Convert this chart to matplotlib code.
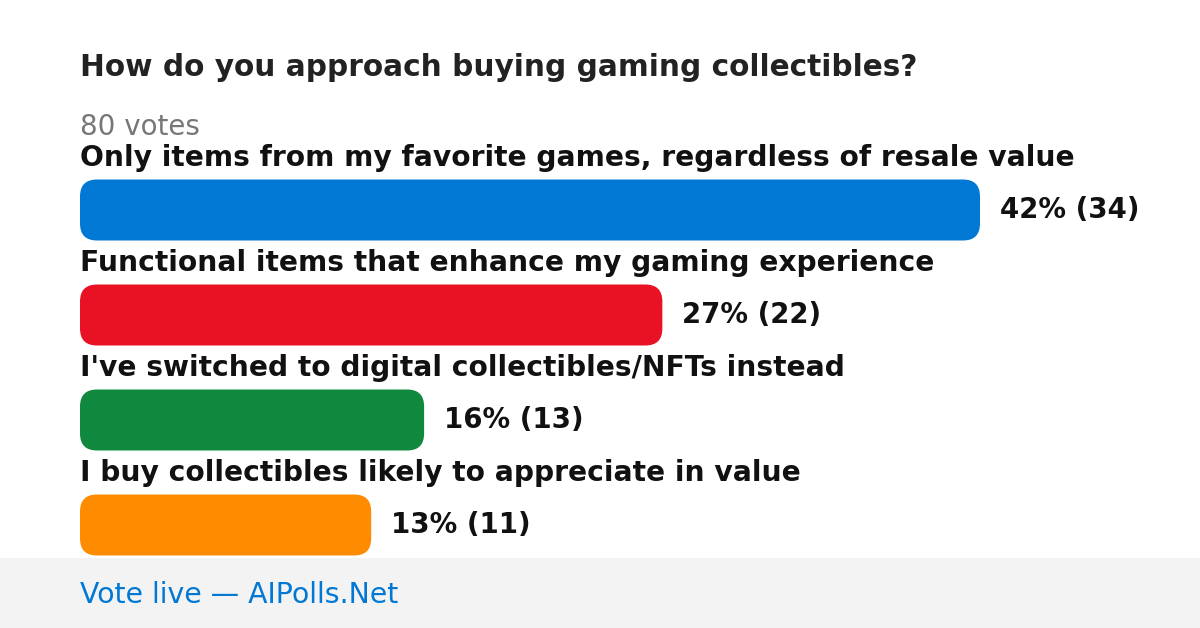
import matplotlib
matplotlib.use("Agg")
import matplotlib.pyplot as plt
from matplotlib.patches import FancyBboxPatch, Rectangle

plt.rcParams['font.family'] = ['DejaVu Sans']

title = "How do you approach buying gaming collectibles?"
total_votes = 80
categories = [
    "Only items from my favorite games, regardless of resale value",
    "Functional items that enhance my gaming experience",
    "I've switched to digital collectibles/NFTs instead",
    "I buy collectibles likely to appreciate in value",
]
votes = [34, 22, 13, 11]
percents = [42, 27, 16, 13]
colors = ["#0078d4", "#e81224", "#10893e", "#ff8c00"]
footer = "Vote live \u2014 AIPolls.Net"

W, H = 1200, 628
fig = plt.figure(figsize=(W / 100, H / 100), dpi=100)
fig.patch.set_facecolor("white")

def fx(px):
    return px / W

def fy(py):
    return 1 - py / H

# footer band
fig.patches.append(Rectangle((0, 0), 1, 70 / H, transform=fig.transFigure,
                             facecolor="#f3f3f3", edgecolor="none", zorder=0))
fig.text(fx(80), fy(595), footer, fontsize=20.4, color="#0078d4",
         va="center", ha="left")

fig.text(fx(80), fy(68), title, fontsize=21.3, fontweight="bold",
         color="#222222", va="center", ha="left")
fig.text(fx(80), fy(127), f"{total_votes} votes", fontsize=20,
         color="#777777", va="center", ha="left")

# bar axes: x from 80 px to 980 px, rows spaced 105 px, first centre at 210 px
top, bottom = 157.5, 157.5 + 105 * len(votes)
ax = fig.add_axes([fx(80), fy(bottom), 900 / W, (bottom - top) / H])
ax.set_xlim(0, max(votes))
ax.set_ylim(len(votes) - 0.5, -0.5)
ax.axis("off")
ax.patch.set_alpha(0)

bar_h = 61 / 105
px_per_x = 900 / max(votes)
px_per_y = 105
radius_px = 17
r_x = radius_px / px_per_x
aspect = px_per_x / px_per_y

for i, (cat, v, p, c) in enumerate(zip(categories, votes, percents, colors)):
    box = FancyBboxPatch((0, i - bar_h / 2), v, bar_h,
                         boxstyle=f"round,pad=0,rounding_size={r_x}",
                         mutation_aspect=aspect,
                         facecolor=c, edgecolor="none", clip_on=False)
    ax.add_patch(box)
    ax.annotate(f"{p}% ({v})", xy=(v, i), xytext=(20, 0),
                textcoords="offset pixels", va="center", ha="left",
                fontsize=19.9, fontweight="bold", color="#111111",
                annotation_clip=False)
    ax.annotate(cat, xy=(0, i), xytext=(0, 52),
                textcoords="offset pixels", va="center", ha="left",
                fontsize=20.25, fontweight="bold", color="#111111",
                annotation_clip=False)

fig.savefig("out.png", dpi=100)
